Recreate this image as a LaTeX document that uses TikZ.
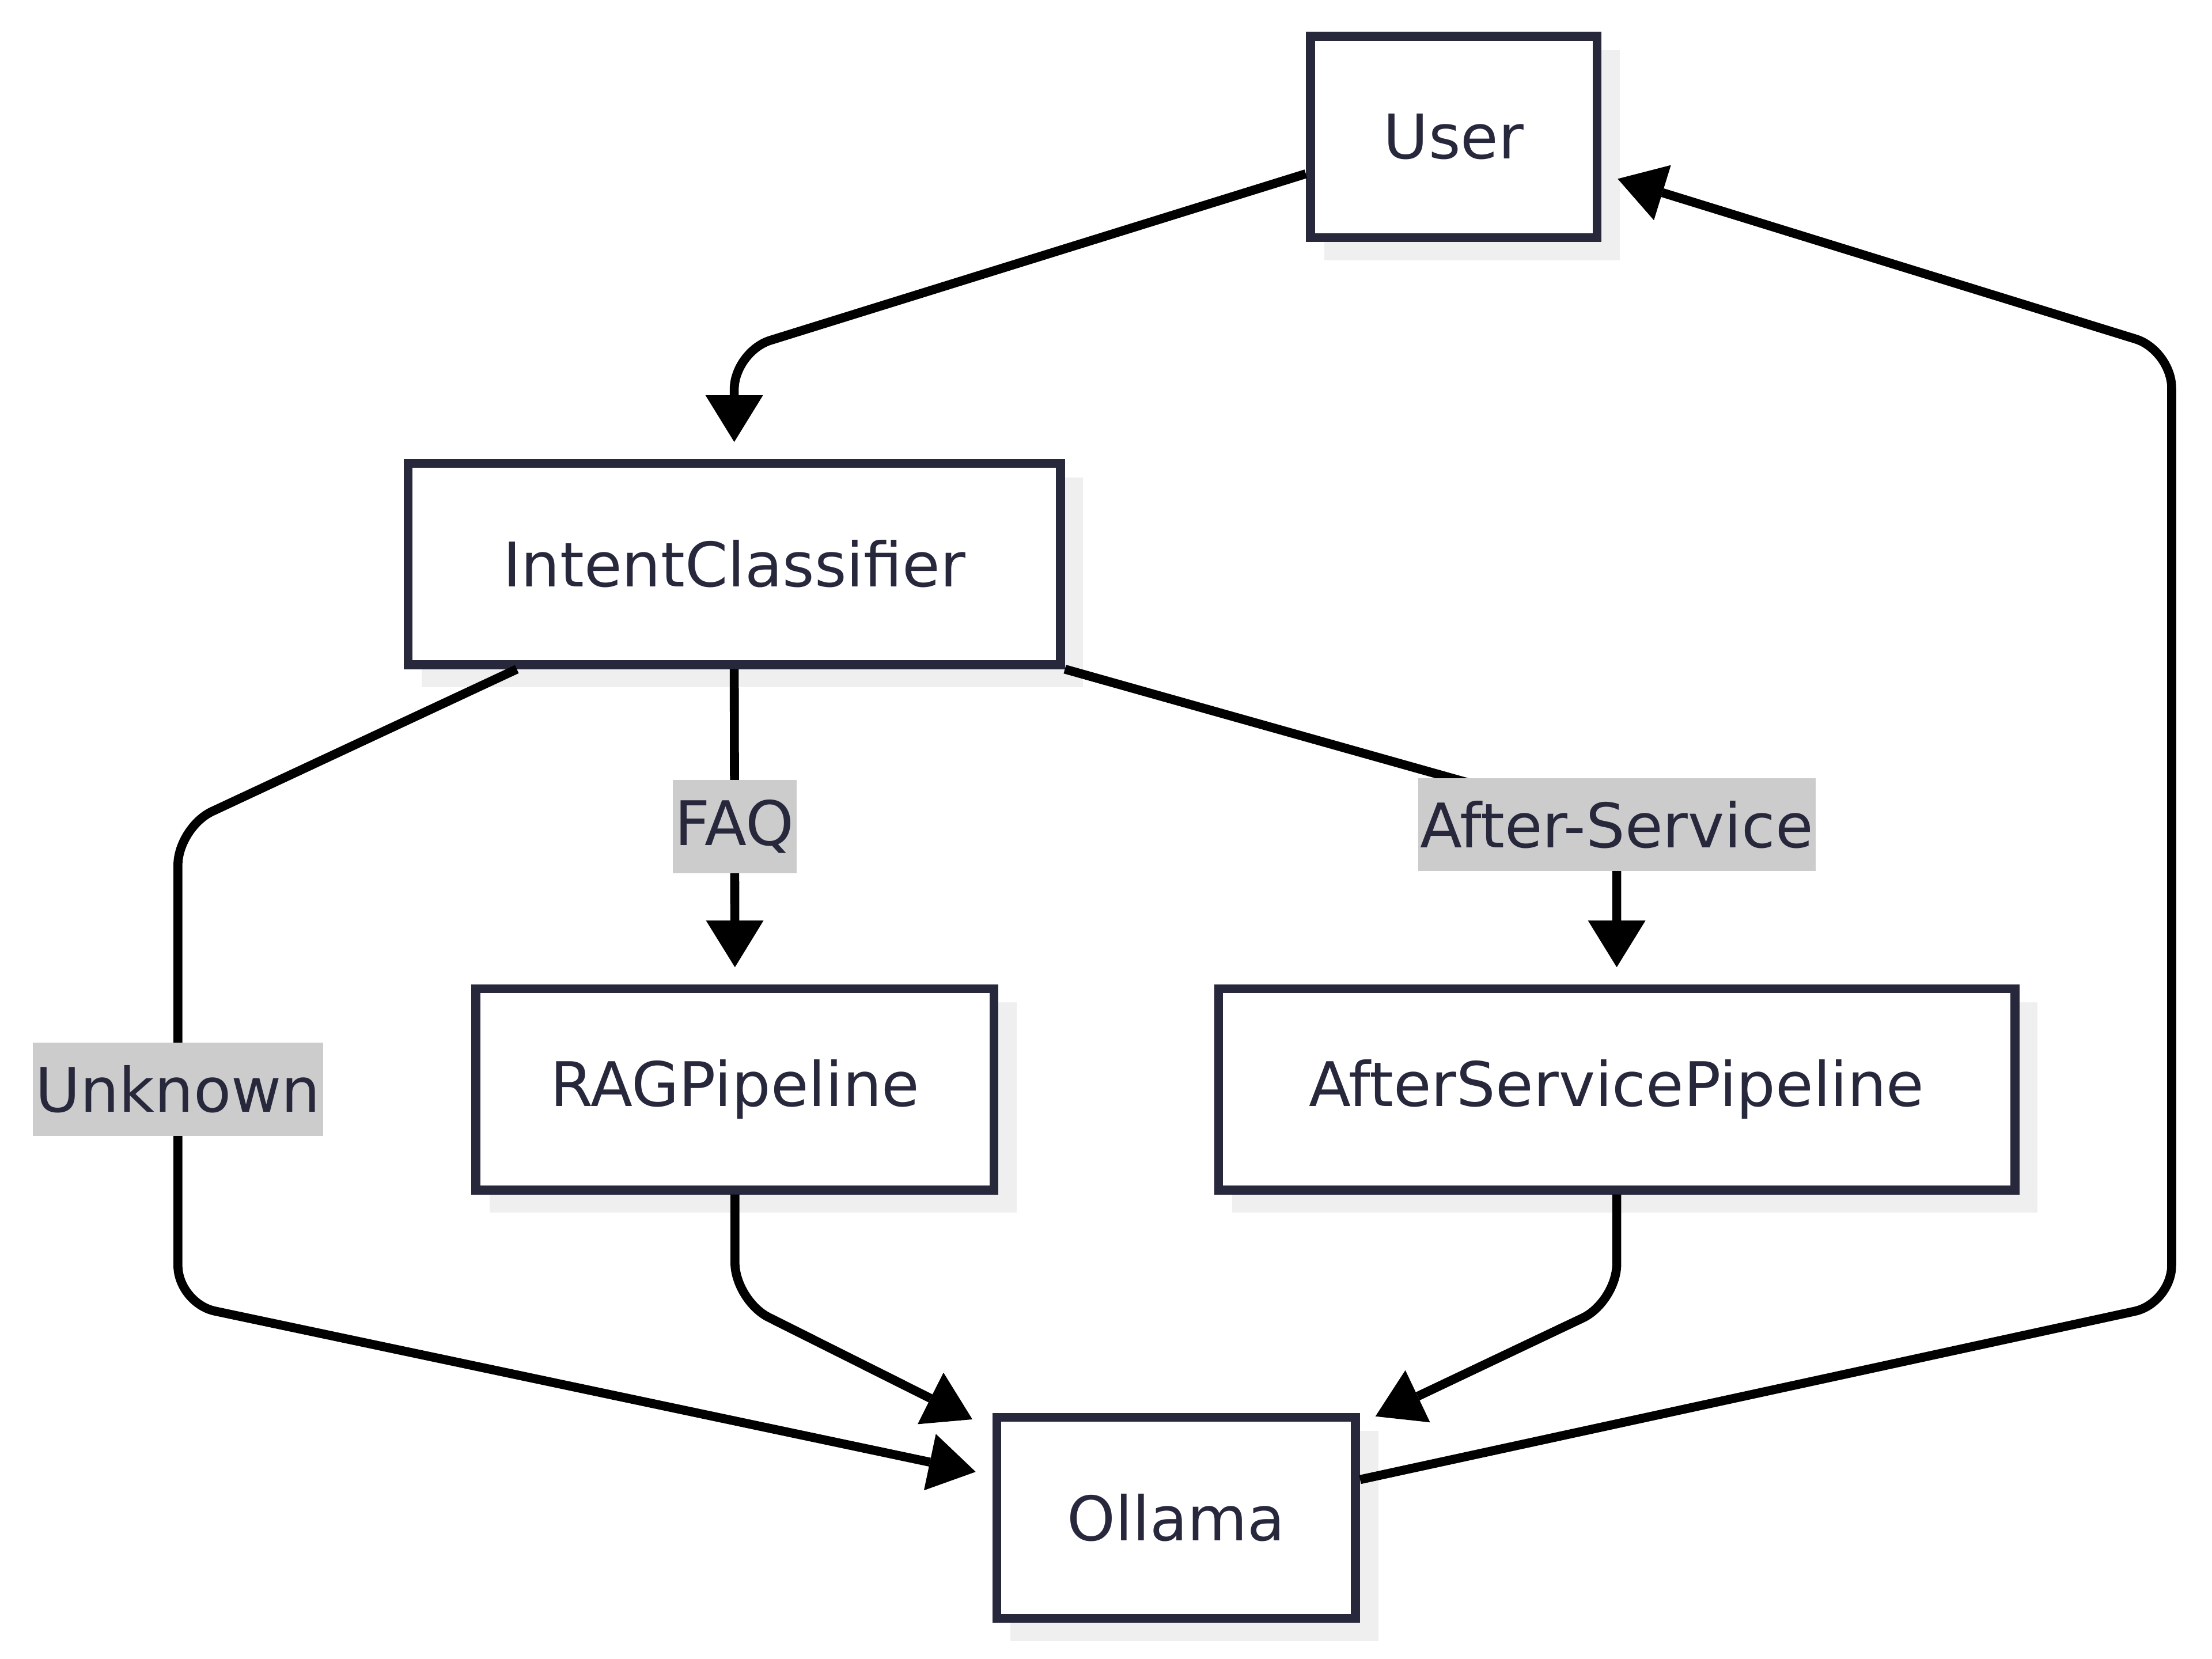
\documentclass[tikz,border=0pt]{standalone}
\usepackage{fontspec}
\setmainfont{DejaVu Sans}
\usetikzlibrary{arrows.meta,shadows}
\definecolor{navy}{HTML}{28283D}
\definecolor{lblgray}{HTML}{CCCCCC}
\definecolor{shadowgray}{HTML}{EFEFEF}
\begin{document}
\begin{tikzpicture}[x=0.29874pt, y=-0.29874pt, font=\fontsize{13}{15}\selectfont,
	box/.style={draw=navy, line width=1.9pt, fill=white, text=navy, minimum height=42.57pt, inner sep=0pt,
		general shadow={fill=shadowgray, draw=shadowgray, line width=1.9pt, shadow xshift=3.87pt, shadow yshift=-3.87pt}},
	lbl/.style={fill=lblgray, text=navy, sharp corners, minimum height=19.7pt, inner xsep=0.5pt, inner ysep=0pt},
	flow/.style={draw=black, line width=1.9pt, rounded corners=8pt, shorten >=3.6pt,
		-{Triangle[length=9.9pt, width=12.2pt, line width=0pt]}}]
	\useasboundingbox (0,0) rectangle (1566.6,1174.9);
	%boxes
	\node[box, minimum width=60.64pt] (User) at (1029.5,97) {User};
	\node[box, minimum width=138pt] (IntentClassifier) at (520,399.5) {IntentClassifier};
	\node[box, minimum width=109.6pt] (RAGPipeline) at (520.5,771.5) {RAGPipeline};
	\node[box, minimum width=168.5pt] (AfterServicePipeline) at (1145,771.5) {AfterServicePipeline};
	\node[box, minimum width=75.9pt] (Ollama) at (833,1075) {Ollama};
	%edges
	\draw[flow] ([yshift=-7.8pt]User.west) -- (IntentClassifier.north |- 0,249) -- (IntentClassifier.north);
	\draw[flow] (IntentClassifier.south) -- node[lbl] {FAQ} (RAGPipeline.north);
	\draw[flow] (IntentClassifier.south east) -- (AfterServicePipeline.north |- 0,584)
		-- node[lbl, pos=0] {After-Service} (AfterServicePipeline.north);
	\draw[flow] ([xshift=-46pt]IntentClassifier.south) -- (126,586)
		-- node[lbl, pos=0.55] {Unknown} (126,923) -- ([yshift=9pt]Ollama.west);
	\draw[flow] (RAGPipeline.south) -- (RAGPipeline.south |- 0,921) -- ([shift={(-1pt,-3pt)}]Ollama.north west);
	\draw[flow] (AfterServicePipeline.south) -- (AfterServicePipeline.south |- 0,922) -- ([yshift=-2.3pt]Ollama.north east);
	\draw[flow] ([yshift=8.1pt]Ollama.east) -- (1538,923) -- (1538,248) -- ([yshift=-7.8pt]User.east);
\end{tikzpicture}
\end{document}
